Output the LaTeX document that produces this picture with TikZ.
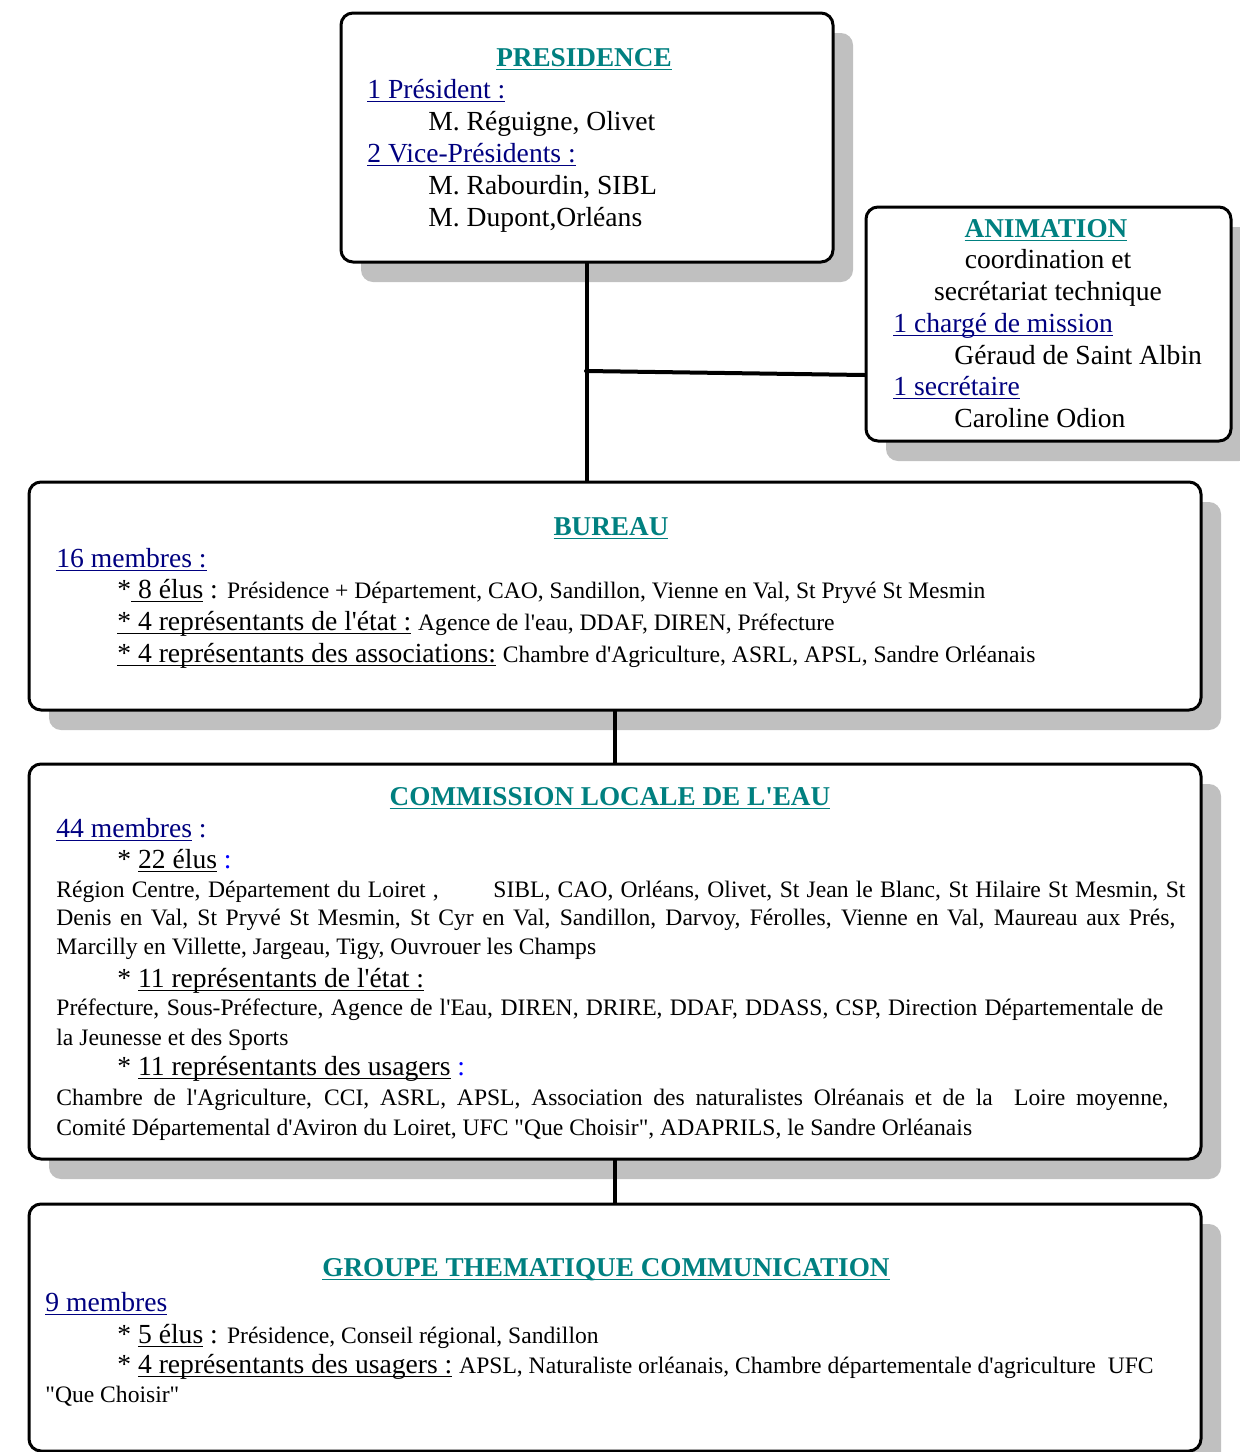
\documentclass[tikz,border=0pt]{standalone}
\usepackage{fontspec}
\setmainfont{Liberation Serif}[Ligatures=TeXOff]
\usepackage{tikz}
\usetikzlibrary{shadows}
\definecolor{sarcelle}{RGB}{0,128,128}
\definecolor{marine}{RGB}{0,0,128}
\definecolor{ombre}{RGB}{192,192,192}
\newcommand{\grandtexte}{\fontsize{13.8pt}{16pt}\selectfont}
\newcommand{\petittexte}{\fontsize{11.8pt}{14pt}\selectfont}
\newcommand{\titretexte}{\fontsize{13.6pt}{16pt}\selectfont\bfseries}
\newsavebox{\boitesoulignee}
\newcommand{\souligne}[1]{\leavevmode\sbox{\boitesoulignee}{#1}\rlap{\rule[-2.2pt]{\wd\boitesoulignee}{0.6pt}}\usebox{\boitesoulignee}}
\tikzset{cadre/.style={draw, line width=1.5pt, rounded corners=6pt, fill=white,
    drop shadow={shadow xshift=10pt, shadow yshift=-10pt, fill=ombre, opacity=1}},
  lien/.style={line width=2pt},
  titre/.style={anchor=base, inner sep=0pt, font=\titretexte, text=sarcelle},
  ligne/.style={anchor=base west, inner sep=0pt, font=\grandtexte},
  centre/.style={anchor=base, inner sep=0pt, font=\grandtexte}}

\begin{document}
\begin{tikzpicture}[x=0.5pt, y=-0.5pt, line cap=round]
    \useasboundingbox (0,0) rectangle (1240,1452);

    % les cadres
    \node[cadre, minimum width=246pt, minimum height=124.5pt] (presidence) at (587,137.5) {};
    \node[cadre, minimum width=182.5pt, minimum height=117pt] (animation) at (1048.5,324) {};
    \node[cadre, minimum width=586pt, minimum height=114pt] (bureau) at (615,596) {};
    \node[cadre, minimum width=586pt, minimum height=197.5pt] (cle) at (615,961.5) {};
    \node[cadre, minimum width=586pt, minimum height=123.5pt] (groupe) at (615,1327.5) {};

    % les liens
    \coordinate (jonction) at (586,371);
    \draw [lien] (presidence.south) -- (presidence.south |- bureau.north);
    \draw [lien] (jonction) -- ([yshift=-25.5pt]animation.west);
    \draw [lien] (bureau.south) -- (cle.north);
    \draw [lien] (cle.south) -- (groupe.north);

    % presidence
    \node[titre] (t-pres) at (584,66) {\souligne{PRESIDENCE}};
    \node[ligne, text=marine] (pres-1) at (367,98) {\souligne{1 Président :}};
    \node[ligne] (pres-2) at (428,130) {M. Réguigne, Olivet};
    \node[ligne, text=marine] (pres-3) at (367,162) {\souligne{2 Vice-Présidents :}};
    \node[ligne] (pres-4) at (428,194) {M. Rabourdin, SIBL};
    \node[ligne] (pres-5) at (428,226) {M. Dupont,Orléans};

    % animation
    \node[titre] (t-anim) at (1046,237) {\souligne{ANIMATION}};
    \node[centre] (anim-1) at (1048,268) {coordination et};
    \node[centre] (anim-2) at (1048,300) {secrétariat technique};
    \node[ligne, text=marine] (anim-3) at (893,332) {\souligne{1 chargé de mission}};
    \node[ligne] (anim-4) at (954,364) {Géraud de Saint Albin};
    \node[ligne, text=marine] (anim-5) at (893,395) {\souligne{1 secrétaire}};
    \node[ligne] (anim-6) at (954,427) {Caroline Odion};

    % bureau
    \node[titre] (t-bur) at (611,535) {\souligne{BUREAU}};
    \node[ligne, text=marine] (bur-1) at (56,567) {\souligne{16 membres :}};
    \node[ligne] (bur-2) at (117,598) {*\souligne{ 8 élus} : {\petittexte Présidence + Département, CAO, Sandillon, Vienne en Val, St Pryvé St Mesmin}};
    \node[ligne] (bur-3) at (117,630) {\souligne{* 4 représentants de l'état :} {\petittexte Agence de l'eau, DDAF, DIREN, Préfecture}};
    \node[ligne] (bur-4) at (117,662) {\souligne{* 4 représentants des associations:} {\petittexte Chambre d'Agriculture, ASRL, APSL, Sandre Orléanais}};

    % commission locale de l'eau
    \node[titre] (t-cle) at (610,805) {\souligne{COMMISSION LOCALE DE L'EAU}};
    \node[ligne] (cle-1) at (56,837) {\textcolor{marine}{\souligne{44 membres} :}};
    \node[ligne] (cle-2) at (117,868) {* \souligne{22 élus} \textcolor{blue}{:}};
    \node[ligne, font=\petittexte] (cle-3) at (56,897) {\makebox[564.5pt][s]{Région Centre, Département du Loiret , \quad\quad SIBL, CAO, Orléans, Olivet, St Jean le Blanc, St Hilaire St Mesmin, St}};
    \node[ligne, font=\petittexte] (cle-4) at (56,925) {\makebox[559.5pt][s]{Denis en Val, St Pryvé St Mesmin, St Cyr en Val, Sandillon, Darvoy, Férolles, Vienne en Val, Maureau aux Prés,}};
    \node[ligne, font=\petittexte] (cle-5) at (56,954) {Marcilly en Villette, Jargeau, Tigy, Ouvrouer les Champs};
    \node[ligne] (cle-6) at (117,987) {* \souligne{11 représentants de l'état :}};
    \node[ligne, font=\petittexte] (cle-7) at (56,1015) {\makebox[553.5pt][s]{Préfecture, Sous-Préfecture, Agence de l'Eau, DIREN, DRIRE, DDAF, DDASS, CSP, Direction Départementale de}};
    \node[ligne, font=\petittexte] (cle-8) at (56,1045) {la Jeunesse et des Sports};
    \node[ligne] (cle-9) at (117,1075) {* \souligne{11 représentants des usagers} \textcolor{blue}{:}};
    \node[ligne, font=\petittexte] (cle-10) at (56,1105) {\makebox[556pt][s]{Chambre de l'Agriculture, CCI, ASRL, APSL, Association des naturalistes Olréanais et de la \ Loire moyenne,}};
    \node[ligne, font=\petittexte] (cle-11) at (56,1135) {Comité Départemental d'Aviron du Loiret, UFC "Que Choisir", ADAPRILS, le Sandre Orléanais};

    % groupe thematique
    \node[titre] (t-grp) at (606,1276) {\souligne{GROUPE THEMATIQUE COMMUNICATION}};
    \node[ligne, text=marine] (grp-1) at (45,1311) {\souligne{9 membres}};
    \node[ligne] (grp-2) at (117,1343) {* \souligne{5 élus} : {\petittexte Présidence, Conseil régional, Sandillon}};
    \node[ligne] (grp-3) at (117,1373) {* \souligne{4 représentants des usagers :} {\petittexte APSL, Naturaliste orléanais, Chambre départementale d'agriculture \ UFC}};
    \node[ligne, font=\petittexte] (grp-4) at (45,1402) {"Que Choisir"};

\end{tikzpicture}
\end{document}
